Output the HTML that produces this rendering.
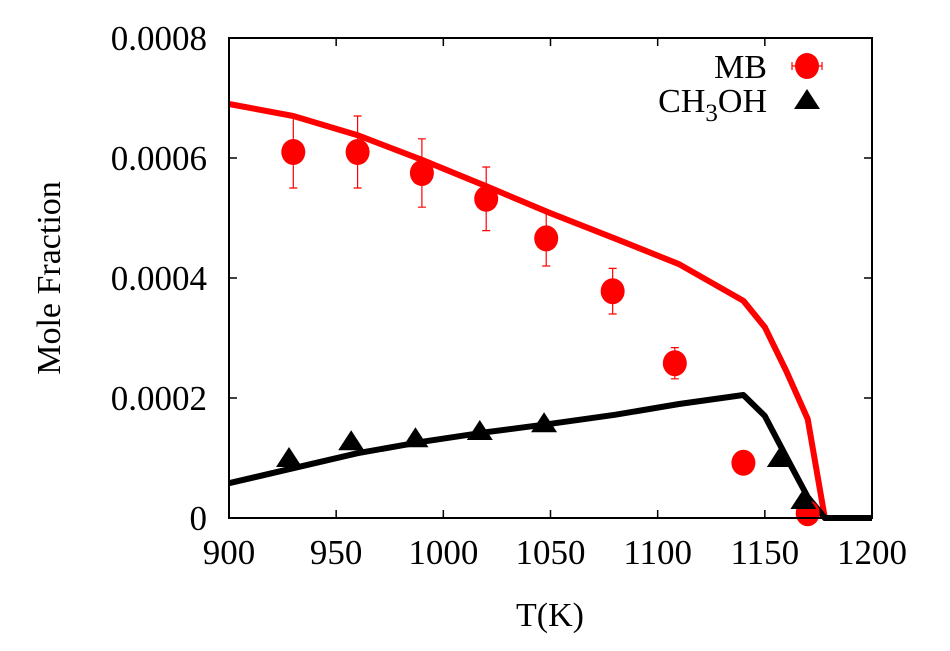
<!DOCTYPE html>
<html><head><meta charset="utf-8"><style>
body{margin:0;background:#fff}
svg text{font-family:"Liberation Serif",serif;fill:#000}
</style></head><body>
<svg id="chart" width="950" height="646" viewBox="0 0 950 646" xmlns="http://www.w3.org/2000/svg">
<g id="axes"></g>
<g id="series"></g>
<rect x="229" y="38" width="643" height="480" fill="none" stroke="#000" stroke-width="2"/>
<text x="60" y="278" font-size="34" text-anchor="middle" transform="rotate(-90 60 278)">Mole Fraction</text>
<text x="550" y="626" font-size="34" text-anchor="middle">T(K)</text>
<g>
<text x="767" y="78" font-size="34" text-anchor="end">MB</text>
<line x1="792" y1="66" x2="822" y2="66" stroke="#f00" stroke-width="1.2"/>
<line x1="792" y1="62" x2="792" y2="70" stroke="#f00" stroke-width="1.2"/>
<line x1="822" y1="62" x2="822" y2="70" stroke="#f00" stroke-width="1.2"/>
<ellipse cx="807" cy="66" rx="12" ry="13" fill="#f00"/>
<text x="767" y="112" font-size="34" text-anchor="end">CH<tspan font-size="25" dy="9">3</tspan><tspan dy="-9">OH</tspan></text>
<polygon points="807,89 820,109 794,109" fill="#000"/>
</g>
</svg>
<script>
const xTicks=[900,950,1000,1050,1100,1150,1200];
const yTicks=[0,0.0002,0.0004,0.0006,0.0008];
const yTickLabels=["0","0.0002","0.0004","0.0006","0.0008"];
const mbT=[930,960,990,1020,1048,1079,1108,1140,1170];
const mbVal=[0.00061,0.00061,0.000575,0.000532,0.000466,0.000378,0.000258,0.000092,0.000008];
const mbErr=[0.00006,0.00006,0.000057,0.000053,0.000046,0.000038,0.000026,0,0];
const ch3T=[928,957,987,1017,1047,1157,1168];
const ch3Val=[0.0001,0.000128,0.000133,0.000145,0.000158,0.0001,0.00003];
const lineT=[900,930,960,990,1020,1050,1080,1110,1140,1150,1160,1170,1178,1200];
const mbModel=[0.00069,0.00067,0.000638,0.000597,0.000553,0.000508,0.000466,0.000423,0.000362,0.000318,0.000245,0.000165,0,0];
const ch3Model=[0.000058,0.000083,0.000108,0.000127,0.000143,0.000157,0.000172,0.00019,0.000205,0.00017,0.000102,0.000035,0,0];
const X=t=>229+(t-900)/300*643;
const Y=v=>518-v/0.0008*480;
const NS="http://www.w3.org/2000/svg";
const ax=document.getElementById('axes'),se=document.getElementById('series');
function mk(tag,at,parent){const e=document.createElementNS(NS,tag);for(const k in at)e.setAttribute(k,at[k]);parent.appendChild(e);return e;}
xTicks.forEach(t=>{
 const l=mk('line',{x1:X(t),x2:X(t),y1:518,y2:510,stroke:'#000','stroke-width':1.5},ax);
 
 
 const l2=mk('line',{x1:X(t),x2:X(t),y1:38,y2:46,stroke:'#000','stroke-width':1.5},ax);
 
 
 const tx=mk('text',{x:X(t),y:564,'font-size':35,'text-anchor':'middle'},ax);tx.textContent=t;
 
 
});
yTicks.forEach((v,i)=>{
 const l=mk('line',{x1:229,x2:237,y1:Y(v),y2:Y(v),stroke:'#000','stroke-width':1.5},ax);
 
 
 const l2=mk('line',{x1:864,x2:872,y1:Y(v),y2:Y(v),stroke:'#000','stroke-width':1.5},ax);
 
 
 const tx=mk('text',{x:207,y:Y(v)+12,'font-size':35,'text-anchor':'end'},ax);tx.textContent=yTickLabels[i];
 
 
});
const pts=(a,b)=>a.map((t,i)=>X(t)+','+Y(b[i])).join(' ');
const rl=mk('polyline',{points:pts(lineT,mbModel),fill:'none',stroke:'#f00','stroke-width':6,'stroke-linejoin':'round'},se);


const bl=mk('polyline',{points:pts(lineT,ch3Model),fill:'none',stroke:'#000','stroke-width':6,'stroke-linejoin':'round'},se);


mbT.forEach((t,i)=>{
 const v=mbVal[i],e=mbErr[i],x=X(t);
 if(e>0){
  const g=mk('path',{d:`M${x},${Y(v+e)}V${Y(v-e)}M${x-4},${Y(v+e)}h8M${x-4},${Y(v-e)}h8`,stroke:'#f00','stroke-width':1.2,fill:'none'},se);
  
  
 }
 const c=mk('ellipse',{cx:x,cy:Y(v),rx:12,ry:13,fill:'#f00'},se);
 
 
});
ch3T.forEach((t,i)=>{
 const x=X(t),y=Y(ch3Val[i]);
 const p=mk('polygon',{points:`${x},${y-11} ${x+13},${y+9} ${x-13},${y+9}`,fill:'#000'},se);
 
 
});
</script>
</body></html>
